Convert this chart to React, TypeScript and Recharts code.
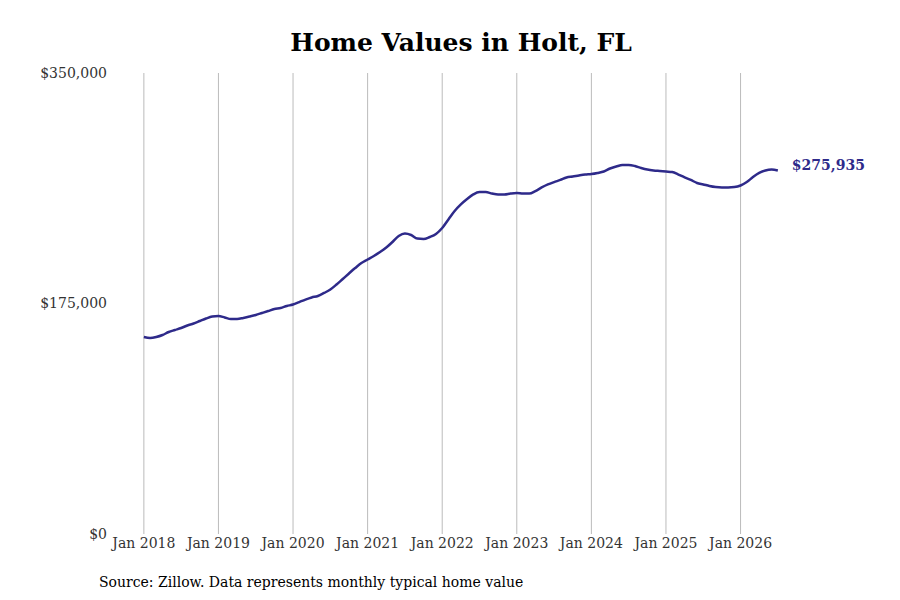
import React from "react";
import { Line, LineChart, ReferenceLine, XAxis, YAxis } from "recharts";

// monthly typical home value, Jan 2018 .. Jul 2026
const values = [
  149560, 148800, 149560, 151080, 153360, 154880, 156400, 158300, 159800, 161700, 163600, 165100,
  165500, 164400, 163200, 163200, 164000, 165100, 166300, 167800, 169300, 170800, 171600, 173100,
  174200, 176100, 178000, 179600, 180700, 183000, 185600, 189400, 193600, 197800, 201900, 205700,
  208400, 211100, 214100, 217500, 221700, 226200, 228100, 227000, 224300, 224000, 225500, 227800,
  232300, 238800, 245200, 250200, 254300, 257800, 259600, 259600, 258500, 257800, 257800, 258500,
  258900, 258500, 258500, 260400, 263100, 265400, 267200, 268800, 270700, 271400, 272200, 272900,
  273300, 274100, 275200, 277500, 279000, 280200, 280200, 279400, 277900, 276700, 276000, 275600,
  275200, 274800, 272900, 270700, 268800, 266500, 265400, 264200, 263400, 263100, 263100, 263400,
  264600, 267200, 271000, 274100, 276000, 276700, 275935,
];

const yearTicks = [0, 12, 24, 36, 48, 60, 72, 84, 96];
const yTicks = [0, 175000, 350000];
const startYear = 2018;

const data = values.map((v, i) => ({ m: i, value: v }));
const lastIndex = values.length - 1;

const fmtMoney = (v: number) => "$" + v.toLocaleString("en-US");
const FONT = "'DejaVu Serif', serif";
const LINE = "#2e2a8a";

const EndLabel = (props: any) => {
  const { x, y, index } = props;
  if (index !== lastIndex) return null;
  return (
    <text
      x={x + 14}
      y={y - 6}
      dominantBaseline="central"
      fill={LINE}
      fontFamily={FONT}
      fontSize={14}
      fontWeight="bold"
    >
      {fmtMoney(values[lastIndex])}
    </text>
  );
};

export default function App() {
  return (
    <div style={{ position: "relative", width: 900, height: 600, background: "#fff" }}>
      <style>{`body{margin:0}`}</style>
      <div
        style={{
          position: "absolute",
          top: 28,
          left: 22,
          width: 878,
          textAlign: "center",
          fontFamily: FONT,
          fontWeight: "bold",
          fontSize: 25,
          color: "#000",
        }}
      >
        Home Values in Holt, FL
      </div>
      <LineChart
        width={900}
        height={600}
        data={data}
        margin={{ top: 73, right: 60, bottom: 36, left: 0 }}
      >
        {yearTicks.map((t) => (
          <ReferenceLine key={t} x={t} stroke="#bbbbbb" strokeWidth={1} />
        ))}
        <XAxis
          dataKey="m"
          type="number"
          domain={[-4, 112]}
          ticks={yearTicks}
          tickFormatter={(m) => `Jan ${startYear + m / 12}`}
          axisLine={false}
          tickLine={false}
          tickSize={0}
          tickMargin={4}
          height={30}
          interval={0}
          tick={{ fill: "#333", fontSize: 14, fontFamily: FONT }}
        />
        <YAxis
          width={119}
          domain={[0, 350000]}
          ticks={yTicks}
          tickFormatter={fmtMoney}
          axisLine={false}
          tickLine={false}
          tickSize={0}
          tickMargin={12}
          tick={{ fill: "#333", fontSize: 14, fontFamily: FONT }}
        />
        <Line
          type="monotone"
          dataKey="value"
          stroke={LINE}
          strokeWidth={2.5}
          dot={false}
          label={EndLabel}
          isAnimationActive={false}
        />
      </LineChart>
      <div
        style={{
          position: "absolute",
          top: 574,
          left: 99,
          fontFamily: FONT,
          fontSize: 14,
          color: "#000",
        }}
      >
        Source: Zillow. Data represents monthly typical home value
      </div>
    </div>
  );
}
